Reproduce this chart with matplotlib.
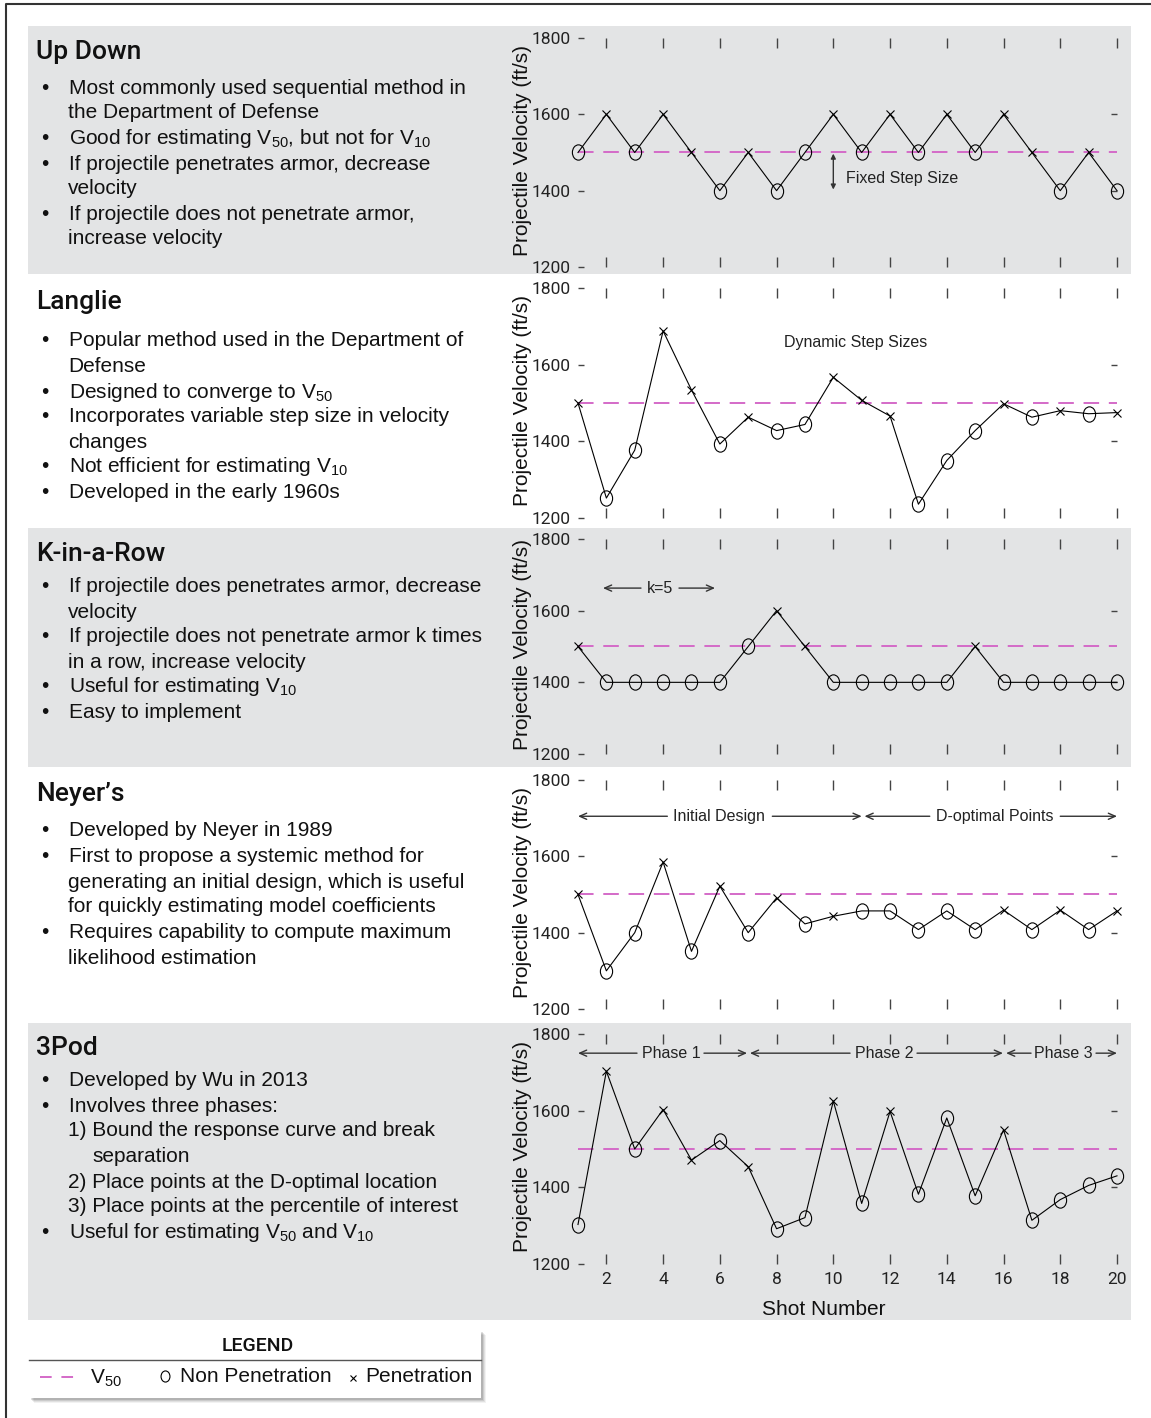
import matplotlib
matplotlib.use("Agg")
import matplotlib.pyplot as plt
from matplotlib import font_manager
from matplotlib.patches import Rectangle
from matplotlib.path import Path
from matplotlib.transforms import Affine2D

# fonts
names = {f.name for f in font_manager.fontManager.ttflist}
NARROW = "Liberation Sans Narrow" if "Liberation Sans Narrow" in names else "Roboto"
plt.rcParams["font.family"] = ["Liberation Sans", "DejaVu Sans"]
plt.rcParams["mathtext.fontset"] = "custom"
plt.rcParams["mathtext.rm"] = "Liberation Sans"
plt.rcParams["mathtext.default"] = "regular"

# data
SHOTS = list(range(1, 21))
V50 = 1500

updown_v = [1500, 1600, 1500, 1600, 1500, 1400, 1500, 1400, 1500, 1600,
            1500, 1600, 1500, 1600, 1500, 1600, 1500, 1400, 1500, 1400]
updown_hit = list("OXOXXOXOOXOXOXOXXOXO")

langlie_v = [1500, 1252, 1377, 1688, 1534, 1393, 1463, 1428, 1444, 1567,
             1507, 1466, 1236, 1350, 1428, 1498, 1463, 1480, 1472, 1475]
langlie_hit = list("XOOXXOXOOXXXOOOXOXOX")

krow_v = [1500, 1400, 1400, 1400, 1400, 1400, 1500, 1600, 1500, 1400,
          1400, 1400, 1400, 1400, 1500, 1400, 1400, 1400, 1400, 1400]
krow_hit = list("XOOOOOOXXOOOOOXOOOOO")

neyer_v = [1500, 1300, 1400, 1585, 1351, 1522, 1400, 1491, 1423, 1443,
           1457, 1457, 1408, 1457, 1408, 1459, 1408, 1459, 1408, 1457]
neyer_hit = list("XOOXOXOXOXOOOOOXOXOX")

tripod_v = [1303, 1703, 1500, 1603, 1471, 1522, 1454, 1292, 1321, 1625,
            1358, 1598, 1382, 1581, 1378, 1550, 1314, 1368, 1405, 1430]
tripod_hit = list("OXOXXOXOOXOXOOOXOOOO")

titles = ["Up Down", "Langlie", "K-in-a-Row", "Neyer\u2019s", "3Pod"]

# left text: (kind, text, y px) ; b = bullet, c = continuation, n = numbered, s = numbered continuation
notes = [
    [("b", "Most commonly used sequential method in", 88), ("c", "the Department of Defense", 113),
     ("b", "Good for estimating V$_{50}$, but not for V$_{10}$", 139),
     ("b", "If projectile penetrates armor, decrease", 164), ("c", "velocity", 189),
     ("b", "If projectile does not penetrate armor,", 214), ("c", "increase velocity", 239)],
    [("b", "Popular method used in the Department of", 341), ("c", "Defense", 366),
     ("b", "Designed to converge to V$_{50}$", 392),
     ("b", "Incorporates variable step size in velocity", 417), ("c", "changes", 442),
     ("b", "Not efficient for estimating V$_{10}$", 467),
     ("b", "Developed in the early 1960s", 492)],
    [("b", "If projectile does penetrates armor, decrease", 587), ("c", "velocity", 612),
     ("b", "If projectile does not penetrate armor k times", 637), ("c", "in a row, increase velocity", 662),
     ("b", "Useful for estimating V$_{10}$", 687),
     ("b", "Easy to implement", 712)],
    [("b", "Developed by Neyer in 1989", 831),
     ("b", "First to propose a systemic method for", 857),
     ("c", "generating an initial design, which is useful", 882),
     ("c", "for quickly estimating model coefficients", 907),
     ("b", "Requires capability to compute maximum", 933), ("c", "likelihood estimation", 958)],
    [("b", "Developed by Wu in 2013", 1080),
     ("b", "Involves three phases:", 1106),
     ("n", "1) Bound the response curve and break", 1131), ("s", "separation", 1157),
     ("n", "2) Place points at the D-optimal location", 1182),
     ("n", "3) Place points at the percentile of interest", 1207),
     ("b", "Useful for estimating V$_{50}$ and V$_{10}$", 1233)],
]
title_y = [52, 302, 554, 794, 1048]

# layout (pixels)
W, H = 1151, 1418
band_edges = [26, 274, 528, 767, 1023, 1320]
panel_px = [(38, 267), (288, 518), (539, 754), (780, 1009), (1034, 1264)]
X_LEFT, X_RIGHT = 578, 1117
GRAY = "#e3e4e5"
PINK = "#d46ac8"
TICK = "#444444"

fig = plt.figure(figsize=(W / 100, H / 100), dpi=100)
bg = fig.add_axes([0, 0, 1, 1], zorder=0)
bg.set_xlim(0, W)
bg.set_ylim(H, 0)
bg.axis("off")

# bands
for i in range(5):
    if i % 2 == 0:
        bg.add_patch(Rectangle((28, band_edges[i]), 1103, band_edges[i + 1] - band_edges[i],
                               color=GRAY, lw=0))

# outer frame
bg.plot([6, 6, W], [H, 4, 4], color="#333333", lw=1.5, solid_capstyle="butt")

# left text
for i in range(5):
    bg.text(36, title_y[i], titles[i], family=NARROW, fontsize=19, fontweight="medium",
            va="center", ha="left", color="#111111")
    for kind, txt, y in notes[i]:
        if kind == "b":
            bg.text(41, y, "\u2022", fontsize=15, va="center", ha="left", color="#111111")
            bg.text(69, y, txt, fontsize=15, va="center", ha="left", color="#111111")
        elif kind in ("c", "n"):
            bg.text(68, y, txt, fontsize=15, va="center", ha="left", color="#111111")
        else:
            bg.text(92, y, txt, fontsize=15, va="center", ha="left", color="#111111")

# ellipse marker for non penetration
ring = Path.unit_circle().transformed(Affine2D().scale(0.8, 1.0))

series = [(updown_v, updown_hit), (langlie_v, langlie_hit), (krow_v, krow_hit),
          (neyer_v, neyer_hit), (tripod_v, tripod_hit)]
axes = []
for i, (vel, hit) in enumerate(series):
    top, bot = panel_px[i]
    ax = fig.add_axes([X_LEFT / W, 1 - bot / H, (X_RIGHT - X_LEFT) / W, (bot - top) / H], zorder=2)
    ax.set_facecolor("none")
    ax.set_xlim(1, 20)
    ax.set_ylim(1200, 1800)
    for s in ax.spines.values():
        s.set_visible(False)

    ax.hlines(V50, SHOTS[0], SHOTS[-1], colors=PINK, lw=1.4, linestyles=(0, (8, 5)), zorder=1)
    ax.plot(SHOTS, vel, color="black", lw=0.8, zorder=2, clip_on=False)
    xo = [s for s, h in zip(SHOTS, hit) if h == "O"]
    yo = [v for v, h in zip(vel, hit) if h == "O"]
    xx = [s for s, h in zip(SHOTS, hit) if h == "X"]
    yx = [v for v, h in zip(vel, hit) if h == "X"]
    ax.plot(xo, yo, ls="none", marker=ring, ms=11, mfc="none", mec="black", mew=0.8, zorder=3, clip_on=False)
    ax.plot(xx, yx, ls="none", marker="x", ms=6, mec="black", mew=0.8, zorder=3, clip_on=False)

    ax.set_xticks(range(2, 21, 2))
    ax.set_yticks([1200, 1400, 1600, 1800])
    ax.tick_params(axis="x", direction="in", length=7, width=1, color=TICK, top=True, bottom=True,
                   labelbottom=(i == 4), labelsize=12.5, pad=6, labelcolor="#222222")
    ax.tick_params(axis="y", direction="in", length=4, width=1, color=TICK, pad=5,
                   labelsize=12.5, labelcolor="#222222")
    for lab in ax.get_xticklabels() + ax.get_yticklabels():
        lab.set_family(NARROW)
    sec = ax.secondary_yaxis("right")
    sec.set_yticks([1400, 1600])
    sec.tick_params(direction="in", length=4, width=1, color=TICK, labelright=False)
    sec.spines["right"].set_visible(False)

    ax.set_ylabel("Projectile Velocity (ft/s)", fontsize=15, color="#111111")
    ax.yaxis.set_label_coords(-0.085, 0.51)
    axes.append(ax)

axes[4].set_xlabel("Shot Number", fontsize=15, color="#111111", labelpad=6)
axes[4].xaxis.set_label_coords(0.456, -0.155)

arrow = dict(arrowstyle="->,head_length=0.5,head_width=0.22", color="#333333", lw=1, shrinkA=0, shrinkB=0)
txt_kw = dict(fontsize=11.5, color="#222222", va="center")

# Up Down: fixed step size
axes[0].annotate("", xy=(10, 1403), xytext=(10, 1497),
                 arrowprops=dict(arrowstyle="<|-|>", color="#333333", lw=1, mutation_scale=7,
                                 shrinkA=0, shrinkB=0))
axes[0].text(10.45, 1432, "Fixed Step Size", ha="left", **txt_kw)

# Langlie
axes[1].text(10.8, 1659, "Dynamic Step Sizes", ha="center", **txt_kw)

# span labels: (axes index, text, y, left end, left gap, centre, right gap, right end)
spans = [
    (2, "k=5", 1663, 1.88, 3.22, 3.89, 4.56, 5.83),
    (3, "Initial Design", 1705, 1.0, 4.15, 5.98, 7.85, 11.0),
    (3, "D-optimal Points", 1705, 11.1, 13.4, 15.7, 18.0, 20.0),
    (4, "Phase 1", 1750, 1.0, 3.08, 4.28, 5.44, 6.96),
    (4, "Phase 2", 1750, 7.06, 10.59, 11.79, 12.95, 15.98),
    (4, "Phase 3", 1750, 16.09, 16.97, 18.1, 19.26, 20.0),
]
for k, name, y, a, ga, c, gb, b in spans:
    axes[k].annotate("", xy=(a, y), xytext=(ga, y), arrowprops=arrow)
    axes[k].annotate("", xy=(b, y), xytext=(gb, y), arrowprops=arrow)
    axes[k].text(c, y, name, ha="center", **txt_kw)

# legend box with soft shadow
for k, a in enumerate([0.05, 0.07, 0.09, 0.12]):
    off = 5 - k
    bg.add_patch(Rectangle((29 + off, 1330 + off), 452, 68, color="black", alpha=a, lw=0, zorder=1))
bg.add_patch(Rectangle((29, 1330), 452, 68, facecolor="white", edgecolor="none", zorder=2))
bg.plot([29, 481], [1360, 1360], color="#555555", lw=1, zorder=3)
bg.text(258, 1346, "LEGEND", family=NARROW, fontsize=14, fontweight="medium", ha="center", va="center",
        color="#111111", zorder=3)
bg.plot([40, 77], [1377, 1377], color=PINK, lw=1.4, dashes=(6, 5), zorder=3)
bg.text(90, 1378, "V$_{50}$", fontsize=15, ha="left", va="center", color="#111111", zorder=3)
bg.plot([165], [1376], ls="none", marker=ring, ms=8, mfc="none", mec="black", mew=0.8, zorder=3)
bg.text(180, 1377, "Non Penetration", fontsize=15, ha="left", va="center", color="#111111", zorder=3)
bg.plot([353], [1378], ls="none", marker="x", ms=4.5, mec="black", mew=0.8, zorder=3)
bg.text(365, 1377, "Penetration", fontsize=15, ha="left", va="center", color="#111111", zorder=3)

fig.savefig("out.png", dpi=100)
